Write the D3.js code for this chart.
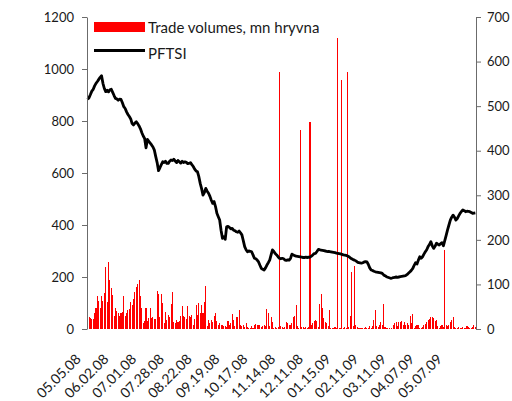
<!DOCTYPE html>
<html>
<head>
<meta charset="utf-8">
<script src="https://cdn.jsdelivr.net/npm/d3@7"></script>
<style>
  body { margin: 0; background: #fff; }
  text { font-family: Lato, "Open Sans", sans-serif; fill: #1a1a1a; }
</style>
</head>
<body>
<script>
// PFTSI index, one value per trading day (left axis)
var pftsi = [
  883,890,902,915,922,935,945,952,960,968,974,945,925,913,918,912,920,922,910,898,
  887,885,880,884,883,870,855,848,835,825,817,808,790,785,792,797,790,781,770,755,
  742,733,697,729,722,715,708,700,688,663,640,609,620,632,643,640,645,637,637,645,
  650,648,653,646,640,648,643,638,645,640,643,641,636,637,640,632,625,615,608,605,
  586,560,540,515,525,541,530,522,510,495,483,490,471,445,432,419,380,349,355,345,
  393,395,391,385,387,380,378,374,372,377,370,362,340,317,305,297,300,299,297,285,
  272,270,265,258,245,233,230,227,235,246,255,265,285,304,298,290,285,278,272,270,
  272,270,265,264,266,265,272,288,285,282,280,279,278,277,276,275,275,276,275,276,
  276,280,285,290,291,298,306,305,303,302,301,300,299,298,298,297,296,295,294,292,
  291,290,289,287,285,284,283,281,278,274,270,267,265,262,258,255,254,253,255,258,
  259,258,248,235,227,225,222,220,219,218,217,216,214,208,205,201,199,197,195,196,
  198,199,200,199,200,201,202,203,204,206,210,215,220,226,233,245,255,250,265,278,
  272,278,288,297,305,317,325,336,320,310,318,330,326,323,328,332,320,340,360,381,
  400,419,430,438,430,419,425,435,445,452,458,455,451,453,452,451,448,445,446,447
];

// trade volumes, mn hryvna (right axis)
var volumes = [
  27,26,25,22,22,37,48,73,63,48,73,63,80,140,60,151,110,91,76,29,
  48,40,35,29,37,39,74,30,37,42,44,61,54,67,84,94,101,110,75,46,
  13,18,48,18,24,48,24,26,22,22,85,78,26,78,58,13,39,20,31,28,
  55,82,16,14,20,16,18,30,52,30,26,22,
  52,30,26,31,10,22,54,31,58,37,54,35,61,97,6,20,13,20,16,29,
  35,18,10,13,10,9,7,7,5,18,9,13,33,20,7,26,28,43,10,7,
  9,5,13,5,2,3,7,3,9,12,10,10,10,5,7,9,7,45,35,7,
  26,16,3,5,3,4,577,6,4,3,
  5,16,13,10,9,14,27,30,54,6,3,446,5,4,3,4,3,4,464,10,
  13,18,20,18,5,55,78,46,24,16,13,7,43,3,2,3,5,2,654,2,
  3,559,3,5,2,577,5,30,129,7,142,9,5,3,2,3,2,3,5,2,
  3,7,3,7,20,43,7,5,10,16,10,55,
  5,3,2,3,1,2,10,13,16,7,16,16,18,10,16,9,14,9,29,13,
  33,3,7,9,9,3,2,5,9,12,16,20,22,26,27,24,18,20,7,3,
  7,10,5,177,9,7,10,16,20,28,5,3,2,5,2,3,4,3,2,7,
  4,3,2,4,10,5
];

// date labels shown every 20th trading day
var dateLabels = ["05.05.08","06.02.08","07.01.08","07.28.08","08.22.08","09.19.08","10.17.08",
                  "11.14.08","12.11.08","01.15.09","02.11.09","03.11.09","04.07.09","05.07.09"];
var labelStep = 20;

var leftTicks = [0, 200, 400, 600, 800, 1000, 1200],
    rightTicks = [0, 100, 200, 300, 400, 500, 600, 700];

function drawChart() {
    var plotLeft = 87, plotRight = 476, plotTop = 17, plotBottom = 329;

    var days = d3.range(pftsi.length);

    var svg = d3.select("body").append("svg")
        .attr("width", 512)
        .attr("height", 401);

    var x = d3.scaleBand()
        .domain(days)
        .range([plotLeft, plotRight])
        .paddingInner(0.25)
        .paddingOuter(0.1);

    var yLeft = d3.scaleLinear().domain([0, 1200]).range([plotBottom, plotTop]);
    var yRight = d3.scaleLinear().domain([0, 700]).range([plotBottom, plotTop]);

    // volume bars
    svg.append("g")
        .selectAll("rect")
        .data(volumes)
        .enter().append("rect")
        .attr("x", function(d, i) { return x(i); })
        .attr("y", function(d) { return yRight(d); })
        .attr("width", x.bandwidth())
        .attr("height", function(d) { return yRight(0) - yRight(d); })
        .attr("fill", "#ff0000")
        .attr("shape-rendering", "crispEdges");

    // PFTSI line
    var line = d3.line()
        .x(function(d, i) { return x(i) + x.bandwidth() / 2; })
        .y(function(d) { return yLeft(d); });

    svg.append("path")
        .datum(pftsi)
        .attr("d", line)
        .attr("fill", "none")
        .attr("stroke", "#000")
        .attr("stroke-width", 2.8)
        .attr("stroke-linejoin", "round");

    // axes
    var gL = svg.append("g")
        .attr("transform", "translate(" + plotLeft + ",0)")
        .call(d3.axisLeft(yLeft).tickValues(leftTicks).tickFormat(d3.format("d"))
              .tickSize(5).tickPadding(8).tickSizeOuter(0));

    var gR = svg.append("g")
        .attr("transform", "translate(" + plotRight + ",0)")
        .call(d3.axisRight(yRight).tickValues(rightTicks).tickFormat(d3.format("d"))
              .tickSize(5).tickPadding(6).tickSizeOuter(0));

    [gL, gR].forEach(function(g) {
        g.selectAll("path, line").attr("stroke", "#6b6b6b");
        g.selectAll("text").attr("font-size", 13).attr("font-family", "Lato").attr("fill", "#1a1a1a");
    });

    // rotated date labels
    svg.append("g")
        .selectAll("text")
        .data(dateLabels)
        .enter().append("text")
        .attr("transform", function(d, i) {
            var cx = x(i * labelStep) + x.bandwidth() / 2;
            return "translate(" + (cx - 6) + ",360) rotate(-45)";
        })
        .attr("text-anchor", "end")
        .attr("font-size", 14)
        .text(function(d) { return d; });

    // legend
    var legend = svg.append("g");
    legend.append("rect")
        .attr("x", 94).attr("y", 22)
        .attr("width", 51).attr("height", 10)
        .attr("fill", "#ff0000");
    legend.append("text")
        .attr("x", 148).attr("y", 33)
        .attr("font-size", 15)
        .text("Trade volumes, mn hryvna");
    legend.append("line")
        .attr("x1", 94).attr("x2", 145)
        .attr("y1", 50.5).attr("y2", 50.5)
        .attr("stroke", "#000").attr("stroke-width", 2.8);
    legend.append("text")
        .attr("x", 148).attr("y", 58.5)
        .attr("font-size", 15)
        .text("PFTSI");
}

drawChart();
</script>
</body>
</html>
